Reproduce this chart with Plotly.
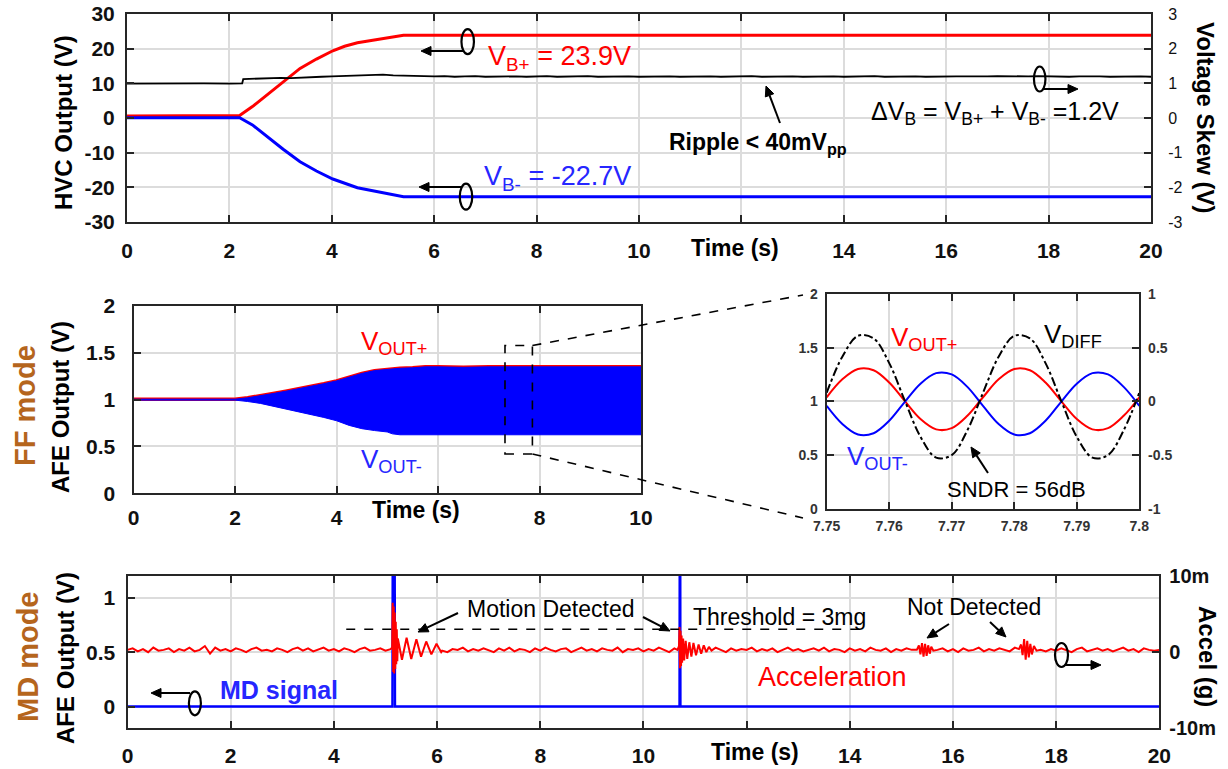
import math
import plotly.graph_objects as go

W, H = 1228, 769
FONT = "Liberation Sans, Arial, Helvetica, sans-serif"
RED = "#ff0000"
BLUE = "#0000ff"
TXT_BLUE = "#2626ff"
BROWN = "#b5651d"
AXC = "#262626"
GRID = "#dcdcdc"

# ---------------- HVC outputs (top panel) ----------------
hvc_time = [0, 1.0, 2.2, 2.45, 2.73, 3.05, 3.38, 3.7, 4.02, 4.25, 4.5, 4.8, 5.1, 5.4, 20]
vb_pos = [0.6, 0.6, 0.7, 3.3, 6.6, 10.5, 14.3, 17.0, 19.4, 20.7, 21.7, 22.4, 23.1, 23.9, 23.9]
vb_neg = [0.1, 0.1, 0.1, -2.0, -5.3, -9.0, -12.6, -15.3, -17.6, -18.9, -20.1, -21.0, -21.9, -22.7, -22.7]

# voltage skew before the converter starts
skew_time_pre = [0, 0.5, 1.0, 1.5, 2.0, 2.25, 2.27]
skew_pre = [0.99, 1.0, 0.99, 1.0, 0.99, 1.0, 1.12]
# voltage skew after start-up, sampled every 0.2 s from 2.4 s
skew_start, skew_step = 2.4, 0.2
skew_post = [1.13, 1.14, 1.15, 1.16, 1.15, 1.17, 1.18, 1.19, 1.20, 1.21,
             1.22, 1.23, 1.24, 1.25, 1.23, 1.22, 1.21, 1.22, 1.20, 1.21,
             1.19, 1.20, 1.21, 1.19, 1.20, 1.21, 1.20, 1.19, 1.20, 1.21,
             1.19, 1.20, 1.20, 1.21, 1.19, 1.20, 1.21, 1.20, 1.19, 1.20,
             1.21, 1.20, 1.19, 1.20, 1.21, 1.20, 1.19, 1.20, 1.20, 1.21,
             1.19, 1.20, 1.21, 1.20, 1.19, 1.20, 1.21, 1.20, 1.19, 1.20,
             1.20, 1.21, 1.19, 1.20, 1.21, 1.20, 1.19, 1.20, 1.21, 1.20,
             1.20, 1.19, 1.20, 1.21, 1.20, 1.19, 1.20, 1.21, 1.20, 1.20,
             1.19, 1.20, 1.21, 1.20, 1.19, 1.20, 1.21, 1.20, 1.19]

# ---------------- FF mode AFE output (middle-left) ----------------
ff_time = [0, 2.0, 2.25, 2.5, 2.75, 3.0, 3.25, 3.5, 3.75, 4.0, 4.25, 4.5, 4.75,
           5.0, 5.1, 5.25, 5.5, 5.75, 6.0, 6.5, 7.0, 7.5, 8.0, 8.5, 9.0, 9.5, 10.0]
ff_upper = [1.005, 1.005, 1.02, 1.04, 1.065, 1.09, 1.115, 1.14, 1.17, 1.20, 1.24, 1.28, 1.31,
            1.325, 1.33, 1.335, 1.34, 1.35, 1.35, 1.345, 1.35, 1.35, 1.345, 1.35, 1.35, 1.345, 1.35]
ff_lower = [0.995, 0.995, 0.98, 0.96, 0.93, 0.90, 0.87, 0.84, 0.81, 0.775, 0.725, 0.69, 0.67,
            0.655, 0.635, 0.625, 0.625, 0.625, 0.625, 0.625, 0.625, 0.625, 0.625, 0.625, 0.625, 0.625, 0.625]

# ---------------- zoomed waveforms (inset) ----------------
zoom_time = [7.75, 7.7525, 7.755, 7.7575, 7.76, 7.7625, 7.765, 7.7675, 7.77, 7.7725, 7.775,
             7.7775, 7.78, 7.7825, 7.785, 7.7875, 7.79, 7.7925, 7.795, 7.7975, 7.80]
vout_pos = [1.038, 1.205, 1.301, 1.290, 1.175, 1.002, 0.835, 0.739, 0.750, 0.865, 1.038,
            1.205, 1.301, 1.290, 1.175, 1.002, 0.835, 0.739, 0.750, 0.865, 1.038]
vout_neg = [0.958, 0.789, 0.691, 0.703, 0.819, 0.996, 1.165, 1.263, 1.251, 1.135, 0.958,
            0.789, 0.691, 0.703, 0.819, 0.996, 1.165, 1.263, 1.251, 1.135, 0.958]
vdiff = [p - n for p, n in zip(vout_pos, vout_neg)]

# ---------------- MD mode (bottom panel) ----------------
md_time = [0, 5.135, 5.14, 5.18, 5.185, 10.70, 10.703, 10.715, 10.718, 20]
md_signal = [0, 0, 1.2, 1.2, 0, 0, 1.2, 1.2, 0, 0]

# background acceleration in mg, sampled every 0.1 s
acc_step = 0.1
acc_bg_mg = [0.3, 0.5, 0.1, 0.4, 0.0, 0.6, 0.2, 0.3, 0.5, 0.0,
             0.4, 0.2, 0.6, 0.1, 0.3, 0.8, -0.2, 0.6, 0.2, 0.4,
             0.1, 0.5, 0.3, 0.0, 0.4, 0.6, 0.2, 0.3, 0.1, 0.5,
             0.3, 0.0, 0.4, 0.6, 0.2, 0.5, 0.1, 0.3, 0.6, 0.2,
             0.4, 0.1, 0.5, 0.3, 0.0, 0.4, 0.6, 0.2, 0.3, 0.5,
             0.2, 0.4, 0.3, 0.1, 0.5, 0.2, 0.4, 0.3, 0.6, 0.1,
             0.5, 0.2, 0.0, 0.4, 0.3, 0.6, 0.1, 0.4, 0.2, 0.5,
             0.3, 0.0, 0.5, 0.2, 0.6, 0.1, 0.4, 0.3, 0.0, 0.5,
             0.2, 0.6, 0.3, 0.1, 0.4, 0.5, 0.0, 0.3, 0.6, 0.2,
             0.4, 0.1, 0.5, 0.3, 0.2, 0.6, 0.0, 0.4, 0.3, 0.5,
             0.1, 0.4, 0.2, 0.6, 0.3, 0.0, 0.5, 0.2, 0.4, 0.3,
             0.5, 0.1, 0.4, 0.2, 0.6, 0.3, 0.0, 0.5, 0.2, 0.4,
             0.3, 0.6, 0.1, 0.4, 0.2, 0.5, 0.0, 0.3, 0.6, 0.2,
             0.4, 0.1, 0.3, 0.5, 0.2, 0.6, 0.1, 0.4, 0.3, 0.0,
             0.5, 0.2, 0.4, 0.1, 0.6, 0.3, 0.2, 0.5, 0.0, 0.4,
             0.2, 0.5, 0.3, 0.1, 0.4, 0.6, 0.2, 0.3, 0.5, 0.1,
             0.4, 0.0, 0.5, 0.2, 0.3, 0.6, 0.1, 0.4, 0.2, 0.5,
             0.3, 0.1, 0.6, 0.2, 0.4, 0.0, 0.5, 0.3, 0.1, 0.4,
             0.2, 0.5, 0.3, 0.0, 0.4, 0.6, 0.1, 0.3, 0.5, 0.2,
             0.4, 0.1, 0.3, 0.6, 0.2, 0.4, 0.0, 0.5, 0.3, 0.2,
             0.3]

# motion events (time in s, acceleration in mg)
ev1_time = [5.10, 5.13, 5.14, 5.15, 5.16, 5.17, 5.18, 5.19, 5.20, 5.21, 5.22, 5.23,
            5.24, 5.32, 5.41, 5.50, 5.60, 5.69, 5.79, 5.89, 5.99, 6.08]
ev1_mg = [0.4, 0.6, 6.5, -2.6, 6.0, -2.8, 5.2, -2.2, 4.0, -1.6, 3.0, -1.2,
          1.8, -1.0, 1.9, -0.9, 1.7, -0.6, 1.4, -0.3, 1.1, 0.0]
ev2_time = [10.66, 10.69, 10.70, 10.71, 10.72, 10.73, 10.74, 10.75, 10.77, 10.79, 10.82,
            10.85, 10.89, 10.93, 10.97, 11.02, 11.07, 11.12, 11.17, 11.22, 11.27, 11.32]
ev2_mg = [0.3, 0.8, 3.3, -2.1, 2.8, -1.8, 2.2, -1.4, 1.8, -1.1, 1.5,
          -0.9, 1.3, -0.6, 1.2, -0.4, 1.0, -0.2, 0.9, 0.0, 0.7, 0.2]
ev3_time = [15.30, 15.34, 15.37, 15.40, 15.43, 15.46, 15.49, 15.52, 15.55, 15.58, 15.62]
ev3_mg = [0.3, 0.9, -0.3, 1.2, -0.6, 1.1, -0.5, 0.9, -0.2, 0.7, 0.2]
ev4_time = [17.28, 17.32, 17.35, 17.38, 17.41, 17.44, 17.47, 17.50, 17.53, 17.57, 17.62]
ev4_mg = [0.4, 1.0, -0.4, 1.7, -1.0, 1.5, -0.7, 1.1, -0.3, 0.8, 0.2]
threshold_mg = 3.0


# ---------------- helpers ----------------
def px(x):
    return x / W


def py(y):
    return 1 - y / H


def dom_x(a, b):
    return [px(a), px(b)]


def dom_y(top, bottom):
    return [py(bottom), py(top)]


# panel boxes in pixels (left, right, top, bottom)
TOP = (127, 1151, 14, 222)
MID = (133.5, 641, 306, 493.3)
INS = (826.7, 1139.3, 294, 508.7)
BOT = (127.5, 1159.3, 576, 728.3)

# assemble series
skew_time = skew_time_pre + [round(skew_start + skew_step * i, 3) for i in range(len(skew_post))]
skew = skew_pre + skew_post

events = list(zip(ev1_time, ev1_mg)) + list(zip(ev2_time, ev2_mg)) + \
    list(zip(ev3_time, ev3_mg)) + list(zip(ev4_time, ev4_mg))
windows = [(ev1_time[0], ev1_time[-1]), (ev2_time[0], ev2_time[-1]),
           (ev3_time[0], ev3_time[-1]), (ev4_time[0], ev4_time[-1])]
acc_pts = []
for i, v in enumerate(acc_bg_mg):
    t = round(acc_step * i, 3)
    if not any(a <= t <= b for a, b in windows):
        acc_pts.append((t, v))
acc_pts += events
acc_pts.sort()
acc_time = [p[0] for p in acc_pts]
acc_g = [p[1] * 1e-3 for p in acc_pts]

fig = go.Figure()

# top panel
fig.add_trace(go.Scatter(x=hvc_time, y=vb_pos, mode="lines", line=dict(color=RED, width=3),
                         xaxis="x", yaxis="y", hoverinfo="skip"))
fig.add_trace(go.Scatter(x=hvc_time, y=vb_neg, mode="lines", line=dict(color=BLUE, width=3),
                         xaxis="x", yaxis="y", hoverinfo="skip"))
fig.add_trace(go.Scatter(x=skew_time, y=skew, mode="lines", line=dict(color="black", width=1.8),
                         xaxis="x", yaxis="y2", hoverinfo="skip"))

# middle-left panel: envelope of the fast 40 Hz outputs
fig.add_trace(go.Scatter(x=ff_time, y=ff_upper, mode="lines", line=dict(color=RED, width=3.5),
                         xaxis="x2", yaxis="y3", hoverinfo="skip"))
fig.add_trace(go.Scatter(x=ff_time + ff_time[::-1], y=ff_upper + ff_lower[::-1], mode="lines",
                         fill="toself", fillcolor=BLUE, line=dict(color=BLUE, width=1),
                         xaxis="x2", yaxis="y3", hoverinfo="skip"))

# inset
fig.add_trace(go.Scatter(x=zoom_time, y=vout_pos, mode="lines", line=dict(color=RED, width=2, shape="spline"),
                         xaxis="x3", yaxis="y4", hoverinfo="skip"))
fig.add_trace(go.Scatter(x=zoom_time, y=vout_neg, mode="lines", line=dict(color=BLUE, width=2, shape="spline"),
                         xaxis="x3", yaxis="y4", hoverinfo="skip"))
fig.add_trace(go.Scatter(x=zoom_time, y=vdiff, mode="lines",
                         line=dict(color="black", width=2, dash="dashdot", shape="spline"),
                         xaxis="x3", yaxis="y5", hoverinfo="skip"))

# bottom panel
fig.add_trace(go.Scatter(x=md_time, y=md_signal, mode="lines", line=dict(color=BLUE, width=2.4),
                         xaxis="x4", yaxis="y6", hoverinfo="skip"))
fig.add_trace(go.Scatter(x=acc_time, y=acc_g, mode="lines", line=dict(color=RED, width=2),
                         xaxis="x4", yaxis="y7", hoverinfo="skip"))


def tickfont(size=21, color="#111111", weight="bold"):
    return dict(family=FONT, size=size, color=color, weight=weight)


def xax(box, rng, vals, anchor, size=21, standoff=4, color="#111111", grid=True, fmt=None, extra=None):
    d = dict(domain=dom_x(box[0], box[1]), range=rng, anchor=anchor, automargin=False,
             tickmode="array", tickvals=vals, ticktext=[fmt(v) if fmt else str(v) for v in vals],
             showline=True, linecolor=AXC, linewidth=2, mirror="ticks",
             ticks="inside", ticklen=7, tickwidth=1.5, tickcolor=AXC,
             showgrid=grid, gridcolor=GRID, gridwidth=1.5, zeroline=False,
             tickfont=tickfont(size, color), ticklabelstandoff=standoff, fixedrange=True)
    if extra:
        # tick and grid line without a label (room for the axis title)
        d["minor"] = dict(tickmode="array", tickvals=extra, ticks="inside", ticklen=7, tickwidth=1.5,
                          tickcolor=AXC, showgrid=True, gridcolor=GRID, gridwidth=1.5)
    return d


def yax(box, rng, vals, text, anchor, size=21, standoff=4, color="#111111", grid=True,
        side="left", overlaying=None, weight="bold"):
    d = dict(range=rng, anchor=anchor, side=side, automargin=False,
             tickmode="array", tickvals=vals, ticktext=text,
             showline=True, linecolor=AXC, linewidth=2,
             ticks="inside", ticklen=7, tickwidth=1.5, tickcolor=AXC,
             showgrid=grid, gridcolor=GRID, gridwidth=1.5, zeroline=False,
             tickfont=tickfont(size, color, weight), ticklabelstandoff=standoff, fixedrange=True)
    if overlaying:
        d["overlaying"] = overlaying
    else:
        d["domain"] = dom_y(box[2], box[3])
        d["mirror"] = True
    return d


t20 = [v for v in range(0, 21, 2) if v != 12]
t10 = [v for v in range(0, 11, 2) if v != 6]
zoom_ticks = [7.75, 7.76, 7.77, 7.78, 7.79, 7.80]

fig.update_layout(
    template="none",
    width=W, height=H, margin=dict(l=0, r=0, t=0, b=0),
    paper_bgcolor="white", plot_bgcolor="white", showlegend=False,
    font=dict(family=FONT, color="black"),
    xaxis=xax(TOP, [0, 20], t20, "y", standoff=9, extra=[12]),
    yaxis=yax(TOP, [-30, 30], list(range(-30, 31, 10)), [str(v) for v in range(-30, 31, 10)], "x", standoff=6),
    yaxis2=yax(TOP, [-3, 3], list(range(-3, 4)), [str(v) for v in range(-3, 4)], "x",
               size=16, weight="normal", standoff=12, grid=False, side="right", overlaying="y"),
    xaxis2=xax(MID, [0, 10], t10, "y3", standoff=4, extra=[6]),
    yaxis3=yax(MID, [0, 2], [0, 0.5, 1, 1.5, 2], ["0", "0.5", "1", "1.5", "2"], "x2", standoff=12),
    xaxis3=xax(INS, [7.75, 7.80], zoom_ticks, "y4", size=14, standoff=3, color="#333333",
               fmt=lambda v: f"{v:g}"),
    yaxis4=yax(INS, [0, 2], [0, 0.5, 1, 1.5, 2], ["0", "0.5", "1", "1.5", "2"], "x3", size=14,
               standoff=4, color="#333333"),
    yaxis5=yax(INS, [-1, 1], [-1, -0.5, 0, 0.5, 1], ["-1", "-0.5", "0", "0.5", "1"], "x3", size=14,
               standoff=4, color="#333333", grid=False, side="right", overlaying="y4"),
    xaxis4=xax(BOT, [0, 20], t20, "y6", standoff=7, extra=[12]),
    yaxis6=yax(BOT, [-0.2, 1.2], [0, 0.5, 1], ["0", "0.5", "1"], "x4", standoff=6),
    yaxis7=yax(BOT, [-0.01, 0.01], [-0.01, 0, 0.01], ["-10m", "0", "10m"], "x4", size=20,
               standoff=4, grid=False, side="right", overlaying="y6"),
)

ann = []
shapes = []


def text(x, y, s, size=24, color="black", bold=False, xanchor="left", angle=0):
    ann.append(dict(x=px(x), y=py(y), xref="paper", yref="paper", text=s, showarrow=False,
                    xanchor=xanchor, yanchor="middle", textangle=angle,
                    font=dict(family=FONT, size=size, color=color, weight="bold" if bold else "normal")))


def arrow(x_tail, y_tail, x_tip, y_tip, head=10, half=4.5):
    # shaft plus filled triangular head, all in pixel positions
    dx, dy = x_tip - x_tail, y_tip - y_tail
    n = math.hypot(dx, dy)
    ux, uy = dx / n, dy / n
    bx, by = x_tip - ux * head, y_tip - uy * head
    shapes.append(dict(type="line", xref="paper", yref="paper",
                       x0=px(x_tail), y0=py(y_tail), x1=px(bx), y1=py(by),
                       line=dict(color="black", width=2)))
    p1 = (bx - uy * half, by + ux * half)
    p2 = (bx + uy * half, by - ux * half)
    path = (f"M {px(x_tip)},{py(y_tip)} L {px(p1[0])},{py(p1[1])} "
            f"L {px(p2[0])},{py(p2[1])} Z")
    shapes.append(dict(type="path", xref="paper", yref="paper", path=path,
                       fillcolor="black", line=dict(color="black", width=1)))


def ellipse(cx, cy, w, h):
    shapes.append(dict(type="circle", xref="paper", yref="paper",
                       x0=px(cx - w / 2), x1=px(cx + w / 2), y0=py(cy + h / 2), y1=py(cy - h / 2),
                       line=dict(color="black", width=2.2)))


# axis titles
text(63, 123, "HVC Output (V)", 24, bold=True, xanchor="center", angle=-90)
text(1206, 118, "Voltage Skew (V)", 24, bold=True, xanchor="center", angle=90)
text(735, 248, "Time (s)", 23, bold=True, xanchor="center")
text(25, 406, "FF mode", 29, BROWN, bold=True, xanchor="center", angle=-90)
text(60, 407, "AFE Output (V)", 24, bold=True, xanchor="center", angle=-90)
text(416, 510, "Time (s)", 23, bold=True, xanchor="center")
text(28, 657, "MD mode", 29, BROWN, bold=True, xanchor="center", angle=-90)
text(65, 658, "AFE Output (V)", 24, bold=True, xanchor="center", angle=-90)
text(1208, 656, "Accel (g)", 24, bold=True, xanchor="center", angle=90)
text(755, 752, "Time (s)", 23, bold=True, xanchor="center")

# top panel callouts
text(486, 58, "V<sub>B+</sub> = 23.9V", 27, RED)
text(482, 178, "V<sub>B-</sub> = -22.7V", 27, TXT_BLUE)
text(667, 143, "Ripple < 40mV<sub>pp</sub>", 23, bold=True)
text(869, 113, "ΔV<sub>B</sub> = V<sub>B+</sub> + V<sub>B-</sub> =1.2V", 25)
ellipse(467.7, 41.7, 12.5, 25)
arrow(464, 51, 421, 51)
ellipse(466, 196.7, 12.5, 26)
arrow(462, 187, 419, 187)
ellipse(1039.7, 79, 11.5, 25)
arrow(1043, 89, 1078, 89)
arrow(780, 123, 766, 86)

# middle panel callouts
text(359, 342, "V<sub>OUT+</sub>", 26, RED)
text(359, 460, "V<sub>OUT-</sub>", 26, TXT_BLUE)
text(889, 339, "V<sub>OUT+</sub>", 26, RED)
text(1042, 335, "V<sub>DIFF</sub>", 26, "black")
text(845, 457, "V<sub>OUT-</sub>", 26, TXT_BLUE)
text(945, 490, "SNDR = 56dB", 22)
arrow(988, 473, 971, 447)

# bottom panel callouts
text(465, 609, "Motion Detected", 23)
arrow(458, 613, 418, 632)
arrow(643, 617, 670, 631)
text(691, 617, "Threshold = 3mg", 23)
text(905, 607, "Not Detected", 23)
arrow(949, 624, 927, 638)
arrow(990, 622, 1006, 637)
text(756, 677, "Acceleration", 27, RED)
text(218, 690, "MD signal", 25, TXT_BLUE, bold=True)
ellipse(194.9, 703.3, 12, 24)
arrow(190, 693, 151, 693)
ellipse(1061.5, 655, 13, 24)
arrow(1065, 665, 1101, 665)

# zoom window on the FF waveform and its connectors to the inset
box_t0, box_t1, box_v0, box_v1 = 7.32, 7.86, 0.42, 1.578
shapes.append(dict(type="rect", xref="x2", yref="y3", x0=box_t0, x1=box_t1, y0=box_v0, y1=box_v1,
                   line=dict(color="black", width=1.6, dash="dash")))


def mid_px(t, v):
    xp = MID[0] + (t - 0) / 10 * (MID[1] - MID[0])
    yp = MID[3] - (v - 0) / 2 * (MID[3] - MID[2])
    return xp, yp


for v_corner, y_end in ((box_v1, 295), (box_v0, 518)):
    xa, ya = mid_px(box_t1, v_corner)
    shapes.append(dict(type="line", xref="paper", yref="paper", x0=px(xa), y0=py(ya),
                       x1=px(803), y1=py(y_end), line=dict(color="black", width=1.6, dash="dash")))

# motion threshold
shapes.append(dict(type="line", xref="x4", yref="y7", x0=4.24, x1=14.31,
                   y0=threshold_mg * 1e-3, y1=threshold_mg * 1e-3,
                   line=dict(color="black", width=1.5, dash="dash")))

fig.update_layout(annotations=ann, shapes=shapes)
fig.write_html("out.html")
